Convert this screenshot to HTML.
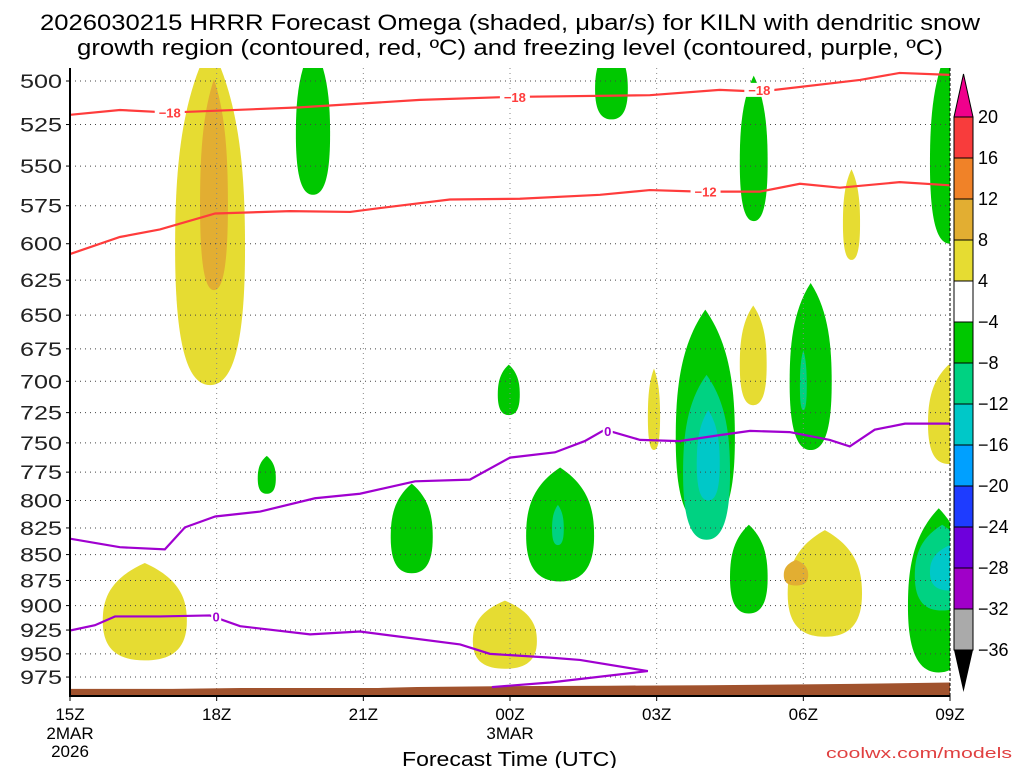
<!DOCTYPE html>
<html><head><meta charset="utf-8"><style>
body{margin:0;background:#fff;}
svg{display:block;font-family:"Liberation Sans","DejaVu Sans",sans-serif;}
</style></head><body>
<svg id="c" width="1024" height="768"></svg>
<script>
const pLevels=[500,525,550,575,600,625,650,675,700,725,750,775,800,825,850,875,900,925,950,975];
const hourTicks=[0,3,6,9,12,15,18];
const hourLabels=["15Z","18Z","21Z","00Z","03Z","06Z","09Z"];
const cbLevels=[20,16,12,8,4,-4,-8,-12,-16,-20,-24,-28,-32,-36];
const cbColors=["#f83c3c","#f08228","#e2ae32","#e6dc32","#ffffff","#00c800","#00d282","#00c8c8","#00a0ff","#1e3cff","#6e00dc","#a000c8","#aaaaaa"];
// blobs: [t0 hours, t1 hours, p top, p bottom, value]
const blobT0=[2.15,2.66,0.67,8.24,11.82,13.7,14.68,15.81,17.55,4.62,10.74,13.7,17.59,3.84,8.75,6.56,9.33,9.86,12.39,12.54,12.82,13.5,14.72,14.93,17.14,17.28,17.59,14.6];
const blobT1=[3.58,3.23,2.39,9.55,12.07,14.25,16.2,16.16,18.4,5.32,11.41,14.27,18.4,4.21,9.2,7.42,10.72,10.1,13.6,13.5,13.29,14.27,15.58,15.07,18.4,18.4,18.4,15.1];
const blobPt=[480,499,858,895,690,643,827,552,687,480,480,497,480,761,687,785,771,804,646,695,723,822,627,676,807,822,841,855];
const blobPb=[703,632,957,966,756,719,932,611,768,568,522,585,600,794,727,868,876,841,822,836,800,908,756,723,970,905,885,880];
const blobV=[6,10,6,6,6,6,6,6,6,-6,-6,-6,-6,-6,-6,-6,-6,-10,-6,-10,-14,-6,-6,-10,-6,-10,-14,10];
// isotherms
const m18H=[0,1.02,2.04,4.7,7.16,9,11.86,13.29,14.11,16.16,16.97,18];
const m18P=[519.3,516.5,518,515,510.7,509,508,505,506,499.4,495.5,496.6];
const m12H=[0,1.02,1.84,2.97,4.5,5.73,6.34,7.77,9.2,10.84,11.86,12.88,14.11,14.93,15.75,16.97,18];
const m12P=[607,595.5,590.5,580,578.5,579,576.5,571,570.5,568,565,566,566,561,563.5,560,562];
const z1H=[0,1.02,1.94,2.35,2.97,3.89,5.01,5.93,7.06,8.18,9,9.92,10.53,10.94,11.66,12.47,13.29,13.91,14.72,15.54,15.95,16.46,17.08,18];
const z1P=[835,843,845,824.5,814.5,810,798,794,783,781.5,762.5,758,748.5,739,747.5,748.5,743.5,740,741,747.5,753,739,734,734];
const z2H=[0,0.51,0.92,1.84,2.86,3.48,4.91,5.93,7.98,8.59,9.82,10.43,11.82,9.82,8.63];
const z2P=[925.5,920,911,911,910,921,929.5,926.5,940,950,954,956.5,968.5,981,986];
const sfcH=[0,2.1,3.5,6.3,7.1,9,11,13,15,16,18];
const sfcP=[988,988,987,987,986,985,984.5,984,983,982.5,981];

const NS="http://www.w3.org/2000/svg";
const svg=document.getElementById('c');
const L=70,R=950,T=68,B=695;
const X=h=>L+h*(R-L)/18;
const Y=p=>81+892.5*Math.log(p/500);
function mk(tag,attrs,parent){const e=document.createElementNS(NS,tag);for(const k in attrs)e.setAttribute(k,attrs[k]);(parent||svg).appendChild(e);return e;}
function colorFor(v){for(let i=0;i<cbLevels.length-1;i++){if(v<=cbLevels[i]&&v>cbLevels[i+1])return cbColors[i];}return "#000";}

// title
const t1=mk('text',{x:40,y:30,'font-size':22,textLength:940,lengthAdjust:'spacingAndGlyphs'});
t1.textContent="2026030215 HRRR Forecast Omega (shaded, μbar/s) for KILN with dendritic snow";


const t2=mk('text',{x:77,y:55,'font-size':22,textLength:866,lengthAdjust:'spacingAndGlyphs'});
t2.textContent="growth region (contoured, red, ºC) and freezing level (contoured, purple, ºC)";



mk('clipPath',{id:'pc'});
const cr=mk('rect',{x:L,y:T,width:R-L,height:B-T},svg.querySelector('#pc'));
const plot=mk('g',{'clip-path':'url(#pc)'});



// blobs
for(let i=0;i<blobV.length;i++){
  const x0=X(blobT0[i]),x1=X(blobT1[i]),y0=Y(blobPt[i]),y1=Y(blobPb[i]);
  const cx=(x0+x1)/2,rx=(x1-x0)/2,cy=(y0+y1)/2,ry=(y1-y0)/2;
  const d=`M${cx},${y0} C${cx+rx*0.9},${y0+ry*0.35} ${x1},${cy-ry*0.2} ${x1},${cy+ry*0.2} C${x1},${y1-ry*0.2} ${cx+rx*0.6},${y1} ${cx},${y1} C${cx-rx*0.6},${y1} ${x0},${y1-ry*0.2} ${x0},${cy+ry*0.2} C${x0},${cy-ry*0.2} ${cx-rx*0.9},${y0+ry*0.35} ${cx},${y0}Z`;
  const b=mk('path',{d:d,fill:colorFor(blobV[i])},plot);
  
  
}
// grid
pLevels.forEach(p=>{const g=mk('line',{x1:L,x2:R,y1:Y(p),y2:Y(p),stroke:'#444','stroke-width':1,'stroke-dasharray':'1,4'},plot);

});
hourTicks.forEach(h=>{const g=mk('line',{x1:X(h),x2:X(h),y1:T,y2:B,stroke:'#888','stroke-width':1,'stroke-dasharray':'1,4'},plot);

});
// surface
let sd=`M${X(0)},${B+5}`;sfcH.forEach((h,i)=>sd+=` L${X(h)},${Y(sfcP[i])}`);sd+=` L${X(18)},${B+5}Z`;
const sf=mk('path',{d:sd,fill:'#a0522d'},plot);


function line(H,P,col,name){let d='';H.forEach((h,i)=>d+=(i?' L':'M')+X(h)+','+Y(P[i]));
const e=mk('path',{d:d,fill:'none',stroke:col,'stroke-width':2.2},plot);

}
line(m18H,m18P,'#ff3c3c','isotherm-minus18');
line(m12H,m12P,'#ff3c3c','isotherm-minus12');
line(z1H,z1P,'#a000d0','freezing-level-upper');
line(z2H,z2P,'#a000d0','freezing-level-lower');
function lab(h,p,txt,col,name){mk('rect',{x:X(h)-(txt.length*5),y:Y(p)-7,width:txt.length*10,height:14,fill:'#fff'},plot);
const t=mk('text',{x:X(h),y:Y(p)+5,'text-anchor':'middle','font-size':13,'font-weight':'bold',fill:col},plot);t.textContent=txt;

}
lab(2.04,518,"−18",'#ff3c3c','contour-label');
lab(9.1,509,"−18",'#ff3c3c','contour-label');
lab(14.1,505,"−18",'#ff3c3c','contour-label');
lab(13.0,566,"−12",'#ff3c3c','contour-label');
lab(11,740,"0",'#a000d0','contour-label');
lab(2.99,911,"0",'#a000d0','contour-label');

// axes
const ax=mk('path',{d:`M${L},${T} L${L},${B+1} L${R},${B+1}`,fill:'none',stroke:'#000','stroke-width':2});


const rb=mk('line',{x1:R,x2:R,y1:T,y2:B,stroke:'#000','stroke-width':1,'stroke-dasharray':'3,2'});


pLevels.forEach(p=>{const t=mk('text',{x:20,y:Y(p)+7,'font-size':19,fill:'#222',textLength:42,lengthAdjust:'spacingAndGlyphs'});t.textContent=p;


mk('line',{x1:L-4,x2:L,y1:Y(p),y2:Y(p),stroke:'#000'});});
hourTicks.forEach((h,i)=>{mk('line',{x1:X(h),x2:X(h),y1:B,y2:B+6,stroke:'#000'});
const t=mk('text',{x:X(h),y:720,'text-anchor':'middle','font-size':17});t.textContent=hourLabels[i];

});
[["2MAR",X(0),739],["2026",X(0),757],["3MAR",X(9),739]].forEach(a=>{const t=mk('text',{x:a[1],y:a[2],'text-anchor':'middle','font-size':17});t.textContent=a[0];

});
const xt=mk('text',{x:402,y:766,'font-size':20,textLength:215,lengthAdjust:'spacingAndGlyphs'});xt.textContent="Forecast Time (UTC)";


const cw=mk('text',{x:826,y:758,'font-size':15,fill:'#e04040',textLength:186,lengthAdjust:'spacingAndGlyphs'});cw.textContent="coolwx.com/models";



// colorbar
const cbY=v=>{const i=cbLevels.indexOf(v);return 117+i*41.0;};
for(let i=0;i<cbColors.length;i++){const r=mk('rect',{x:954,y:cbY(cbLevels[i]),width:19,height:41,fill:cbColors[i],stroke:'#000','stroke-width':1});

}
const tp=mk('path',{d:`M954,117 L963.5,74 L973,117Z`,fill:'#f0008c',stroke:'#000'});


const bt=mk('path',{d:`M954,650 L963.5,692 L973,650Z`,fill:'#000'});


cbLevels.forEach(v=>{const t=mk('text',{x:978,y:cbY(v)+6,'font-size':18});t.textContent=v<0?"−"+(-v):v;

});
</script>
</body></html>
